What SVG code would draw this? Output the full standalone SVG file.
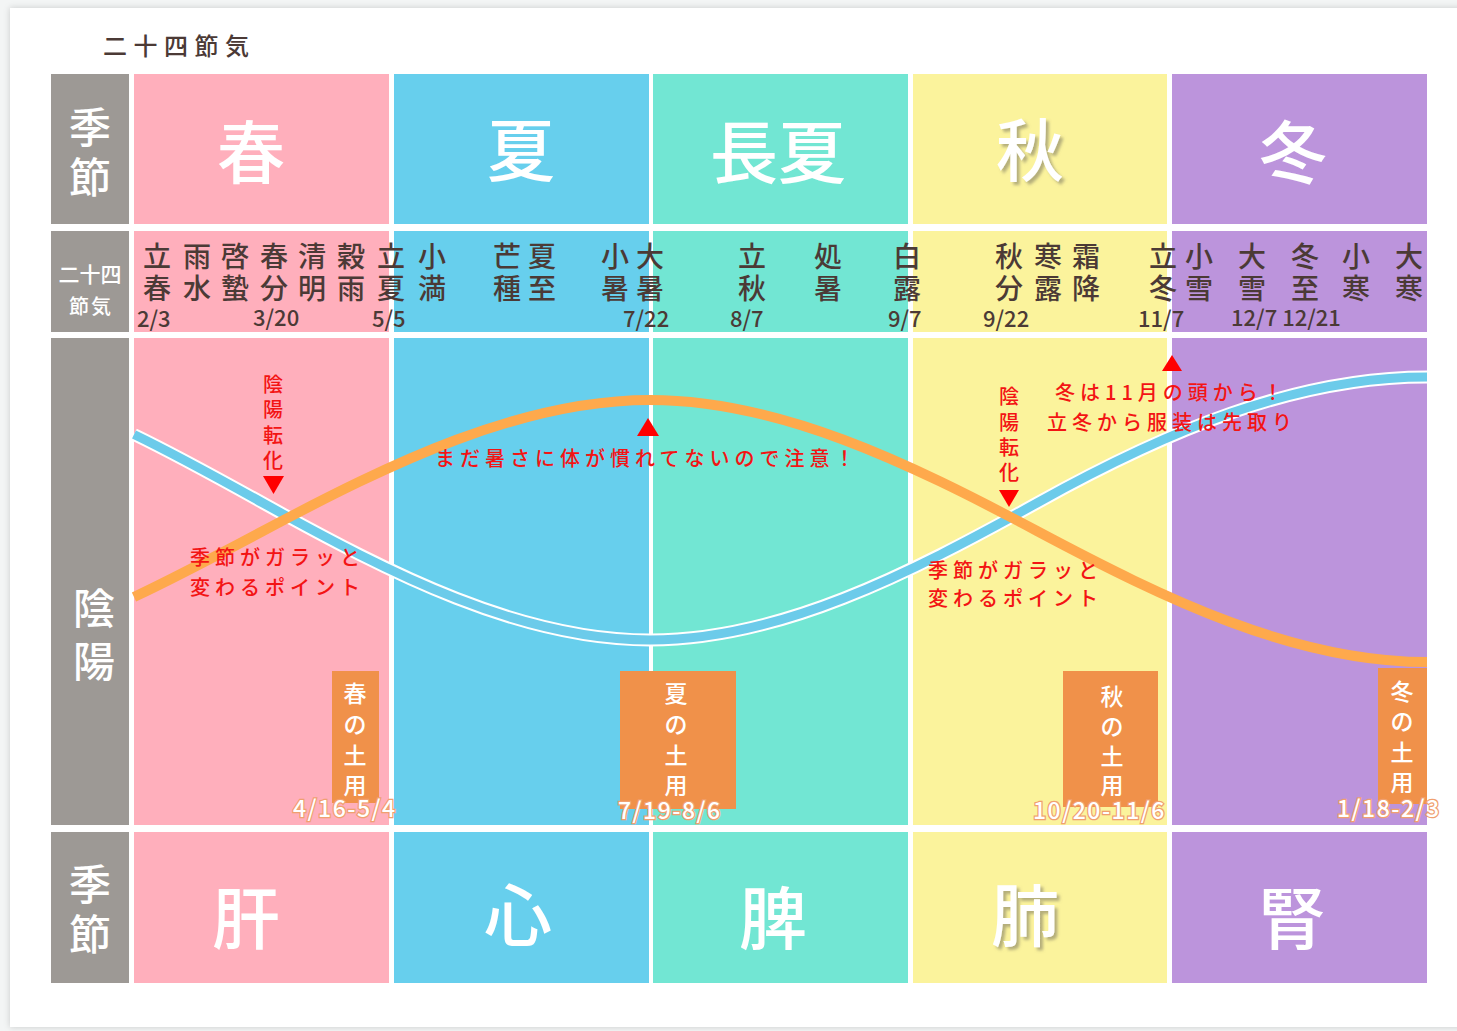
<svg xmlns="http://www.w3.org/2000/svg" width="1457" height="1031" viewBox="0 0 1457 1031">
<defs>
<style>
.jp{font-family:"Noto Sans CJK JP","Noto Sans",sans-serif}
.lbl{fill:#9d9995}
.spring{fill:#ffafbc}.summer{fill:#67cfed}.late{fill:#72e6d3}.autumn{fill:#fbf39c}.winter{fill:#bc94dc}
.wt{fill:#ffffff;font-weight:500}
.big{font-size:68px;text-anchor:middle;dominant-baseline:central}
.lab{font-size:42px;text-anchor:middle;dominant-baseline:central}
.sk{fill:#4b3a36;font-size:28px;font-weight:500;text-anchor:middle;dominant-baseline:central}
.dt{fill:#4b3a36;font-size:22px;font-weight:500}
.red{fill:#f31414;font-size:20px;font-weight:500;letter-spacing:5px;dominant-baseline:central}
.redv{fill:#f31414;font-size:20px;font-weight:500;text-anchor:middle;dominant-baseline:central}
.tri{fill:#ff0000}
.doyo{fill:#f0914a}
.dv{fill:#ffffff;font-size:23px;font-weight:500;text-anchor:middle;dominant-baseline:central}
.dd{fill:#ffffff;stroke:#f0a070;stroke-width:2.5px;paint-order:stroke;font-size:23px;font-weight:500;letter-spacing:1.5px}
</style>
<filter id="card" x="-5%" y="-5%" width="110%" height="110%">
<feDropShadow dx="0" dy="0" stdDeviation="3" flood-color="#000" flood-opacity="0.18"/>
</filter>
<filter id="sh" x="-20%" y="-20%" width="140%" height="140%">
<feDropShadow dx="3" dy="3" stdDeviation="1.5" flood-color="#7a7460" flood-opacity="0.55"/>
</filter>
</defs>
<rect x="0" y="0" width="1457" height="1031" fill="#f3f5f5"/>
<rect x="10" y="8" width="1470" height="1019" fill="#ffffff" filter="url(#card)"/>
<text class="jp" x="103" y="44" font-size="24" font-weight="500" fill="#4b3a36" letter-spacing="6.5" dominant-baseline="central">二十四節気</text>

<g id="row-season">
<rect class="lbl" x="51" y="74" width="78" height="150"/>
<text class="jp wt lab" x="90 90" y="124 174">季節</text>
<g id="season-spring"><rect class="spring" x="134" y="74" width="255" height="150"/><text class="jp wt big" x="251" y="148">春</text></g>
<g id="season-summer"><rect class="summer" x="394" y="74" width="255" height="150"/><text class="jp wt big" x="521" y="146">夏</text></g>
<g id="season-late"><rect class="late" x="653" y="74" width="255" height="150"/><text class="jp wt big" x="778" y="148">長夏</text></g>
<g id="season-autumn"><rect class="autumn" x="913" y="74" width="254" height="150"/><text class="jp wt big" x="1030" y="146" filter="url(#sh)">秋</text></g>
<g id="season-winter"><rect class="winter" x="1172" y="74" width="255" height="150"/><text class="jp wt big" x="1293" y="148">冬</text></g>
</g>

<g id="row-sekki">
<rect class="lbl" x="51" y="231" width="78" height="101"/>
<text class="jp wt" x="90" y="273" font-size="21" text-anchor="middle" dominant-baseline="central">二十四</text>
<text class="jp wt" x="91" y="305" font-size="20" text-anchor="middle" dominant-baseline="central" letter-spacing="2">節気</text>
<rect class="spring" x="134" y="231" width="255" height="101"/>
<rect class="summer" x="394" y="231" width="255" height="101"/>
<rect class="late" x="653" y="231" width="255" height="101"/>
<rect class="autumn" x="913" y="231" width="254" height="101"/>
<rect class="winter" x="1172" y="231" width="255" height="101"/>
<text class="jp sk" x="157 197 235 274 312 351 391 432 507 542 615 650 752 828 907 1009 1048 1086 1163 1199 1252 1305 1356 1409" y="255">立雨啓春清穀立小芒夏小大立処白秋寒霜立小大冬小大</text>
<text class="jp sk" x="157 197 235 274 312 351 391 432 507 542 615 650 752 828 907 1009 1048 1086 1163 1199 1252 1305 1356 1409" y="287">春水蟄分明雨夏満種至暑暑秋暑露分露降冬雪雪至寒寒</text>
<text class="jp dt" x="137" y="327">2/3</text>
<text class="jp dt" x="253" y="326" font-size="17" fill="#5a5050">3/20</text>
<text class="jp dt" x="372" y="327">5/5</text>
<text class="jp dt" x="623" y="327">7/22</text>
<text class="jp dt" x="730" y="327" fill="#7aab9f">8/7</text>
<text class="jp dt" x="888" y="327">9/7</text>
<text class="jp dt" x="983" y="327">9/22</text>
<text class="jp dt" x="1138" y="327">11/7</text>
<text class="jp dt" x="1231" y="326" font-size="17">12/7 12/21</text>
</g>

<g id="row-yinyang">
<rect class="lbl" x="51" y="338" width="78" height="487"/>
<text class="jp wt lab" x="94 94" y="605 658" font-size="44">陰陽</text>
<rect class="spring" x="134" y="338" width="255" height="487"/>
<rect class="summer" x="394" y="338" width="255" height="487"/>
<rect class="late" x="653" y="338" width="255" height="487"/>
<rect class="autumn" x="913" y="338" width="254" height="487"/>
<rect class="winter" x="1172" y="338" width="255" height="487"/>
</g>

<g id="curves" fill="none">
<path d="M134,434.5 C177,455.2 220,479.1 263,503 C392,574.7 521,640 650,640 C779,640 908,574.7 1037,503 C1166,431.3 1295,377 1427,377" stroke="#ffffff" stroke-width="13"/>
<path d="M134,434.5 C177,455.2 220,479.1 263,503 C392,574.7 521,640 650,640 C779,640 908,574.7 1037,503 C1166,431.3 1295,377 1427,377" stroke="#6ccbea" stroke-width="9"/>
<path d="M134,597 C177,576.7 220,553.9 263,531 C392,462.4 521,400 650,400 C779,400 908,462.4 1037,531 C1166,599.6 1295,662 1427,662" stroke="#fea94c" stroke-width="10"/>
</g>

<g id="note-spring-turn">
<text class="jp redv" x="273 273 273 273" y="383 408 434 459">陰陽転化</text>
<polygon class="tri" points="263,476 284,476 273.5,494"/>
<text class="jp red" x="190" y="556">季節がガラッと</text>
<text class="jp red" x="190" y="586">変わるポイント</text>
</g>
<g id="note-summer">
<polygon class="tri" points="648,418 659,436 637,436"/>
<text class="jp red" x="435" y="457" letter-spacing="5.5">まだ暑さに体が慣れてないので注意！</text>
</g>
<g id="note-autumn-turn">
<text class="jp redv" x="1009 1009 1009 1009" y="395 421 446 471">陰陽転化</text>
<polygon class="tri" points="999,490 1019,490 1009,507"/>
<text class="jp red" x="928" y="569">季節がガラッと</text>
<text class="jp red" x="928" y="597">変わるポイント</text>
</g>
<g id="note-winter">
<polygon class="tri" points="1172,355 1182,371 1162,371"/>
<text class="jp red" x="1055" y="391">冬は11月の頭から！</text>
<text class="jp red" x="1047" y="421">立冬から服装は先取り</text>
</g>

<g id="doyo-spring">
<rect class="doyo" x="332" y="671" width="47" height="132"/>
<text class="jp dv" x="355 355 355 355" y="692 723 754 784">春の土用</text>
<text class="jp dd" x="293" y="817">4/16-5/4</text>
</g>
<g id="doyo-summer">
<rect class="doyo" x="620" y="671" width="116" height="138"/>
<text class="jp dv" x="676 676 676 676" y="692 723 754 784">夏の土用</text>
<text class="jp dd" x="618" y="819">7/19-8/6</text>
</g>
<g id="doyo-autumn">
<rect class="doyo" x="1063" y="671" width="95" height="136"/>
<text class="jp dv" x="1112 1112 1112 1112" y="695 725 755 784">秋の土用</text>
<text class="jp dd" x="1033" y="819">10/20-11/6</text>
</g>
<g id="doyo-winter">
<rect class="doyo" x="1378" y="668" width="49" height="136"/>
<text class="jp dv" x="1402 1402 1402 1402" y="690 720 751 781">冬の土用</text>
<text class="jp dd" x="1337" y="817">1/18-2/3</text>
</g>

<g id="row-organ">
<rect class="lbl" x="51" y="832" width="78" height="151"/>
<text class="jp wt lab" x="90 90" y="881 931">季節</text>
<g id="organ-liver"><rect class="spring" x="134" y="832" width="255" height="151"/><text class="jp wt big" x="246" y="914">肝</text></g>
<g id="organ-heart"><rect class="summer" x="394" y="832" width="255" height="151"/><text class="jp wt big" x="518" y="911">心</text></g>
<g id="organ-spleen"><rect class="late" x="653" y="832" width="255" height="151"/><text class="jp wt big" x="773" y="914">脾</text></g>
<g id="organ-lung"><rect class="autumn" x="913" y="832" width="254" height="151"/><text class="jp wt big" x="1025" y="911" filter="url(#sh)">肺</text></g>
<g id="organ-kidney"><rect class="winter" x="1172" y="832" width="255" height="151"/><text class="jp wt big" x="1292" y="914">腎</text></g>
</g>
</svg>
